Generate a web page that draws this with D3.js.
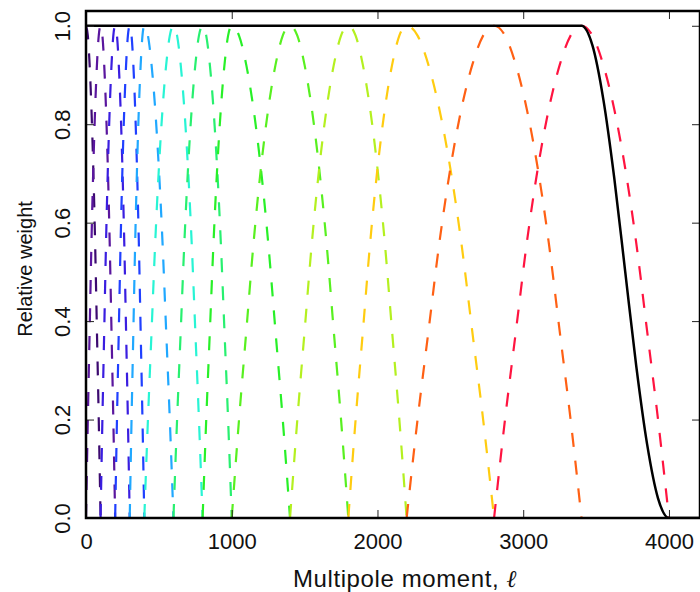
<!DOCTYPE html>
<html>
<head>
<meta charset="utf-8">
<script src="https://cdn.jsdelivr.net/npm/d3@7"></script>
<style>
    body { margin: 0; background: #fff; }
    text { font-family: "Liberation Sans", Arial, sans-serif; fill: #111; }
</style>
</head>
<body>
<svg id="chart"></svg>
<script>
// band centres (multipole) read from the peaks / zeros of the dashed windows
const nodes = [0, 100, 200, 300, 400, 600, 800, 1000, 1400, 1800, 2200, 2800, 3400, 4000];
const bandColors = ["#3c0a70", "#5a169e", "#3a1ee0", "#2040ff", "#20a8ff", "#28f4d4",
    "#28f070", "#28f028", "#58f020", "#b4f020", "#ffcc10", "#ff6014", "#ff1440"];
// shape of a window rising from one node to the next (fraction of the interval -> weight)
const riseProfile = [0, 0.2, 0.38, 0.56, 0.71, 0.83, 0.92, 0.98, 1];
// the solid curve: flat at 1, then falls off between beamStart and beamEnd
const beamFall = [1, 0.96, 0.85, 0.69, 0.5, 0.31, 0.15, 0.04, 0];
const beamStart = 3400, beamEnd = 4000;
const xTicks = [0, 1000, 2000, 3000, 4000];
const yTicks = [0, 0.2, 0.4, 0.6, 0.8, 1.0];

const width = 700, height = 592;
const margin = {top: 11, right: 0, bottom: 74, left: 86};

const svg = d3.select("#chart").attr("width", width).attr("height", height);

const x = d3.scaleLinear().domain([0, 4213]).range([margin.left, width - margin.right]);
const y = d3.scaleLinear().domain([0, 1.03]).range([height - margin.bottom, margin.top]);

function bandPoints(i) {
    const pts = [];
    const n = riseProfile.length;
    if (i > 0) {
        const a = nodes[i - 1], b = nodes[i];
        riseProfile.forEach((f, k) => pts.push([a + (b - a) * k / (n - 1), f]));
    } else {
        pts.push([nodes[0], 1]);
    }
    const a = nodes[i], b = nodes[i + 1];
    for (let k = 1; k < n; k++) pts.push([a + (b - a) * k / (n - 1), riseProfile[n - 1 - k]]);
    return pts;
}

const line = d3.line()
    .x(d => x(d[0]))
    .y(d => y(d[1]))
    .curve(d3.curveMonotoneX);

svg.append("clipPath").attr("id", "clip")
    .append("rect")
    .attr("x", margin.left).attr("y", margin.top)
    .attr("width", width - margin.left - margin.right)
    .attr("height", height - margin.top - margin.bottom);

const plot = svg.append("g").attr("clip-path", "url(#clip)");

bandColors.forEach((c, i) => {
    plot.append("path")
        .attr("d", line(bandPoints(i)))
        .attr("fill", "none")
        .attr("stroke", c)
        .attr("stroke-width", 2.2)
        .attr("stroke-dasharray", "14,14");
});

// solid curve
const beam = [[0, 1], [beamStart, 1]];
beamFall.forEach((f, k) => {
    if (k > 0) beam.push([beamStart + (beamEnd - beamStart) * k / (beamFall.length - 1), f]);
});
beam.push([4213, 0]);
plot.append("path")
    .attr("d", line(beam))
    .attr("fill", "none")
    .attr("stroke", "#000")
    .attr("stroke-width", 2.5);

// axes, ticks pointing inward on all four sides
const axBottom = svg.append("g")
    .attr("transform", `translate(0,${height - margin.bottom})`)
    .call(d3.axisBottom(x).tickValues(xTicks).tickSize(-8).tickPadding(15).tickFormat(d3.format("d")));
const axTop = svg.append("g")
    .attr("transform", `translate(0,${margin.top})`)
    .call(d3.axisTop(x).tickValues(xTicks).tickSize(-8).tickFormat(""));
const axLeft = svg.append("g")
    .attr("transform", `translate(${margin.left},0)`)
    .call(d3.axisLeft(y).tickValues(yTicks).tickSize(-8).tickFormat(d3.format(".1f")));
const axRight = svg.append("g")
    .attr("transform", `translate(${width - margin.right},0)`)
    .call(d3.axisRight(y).tickValues(yTicks).tickSize(-8).tickFormat(""));

[axBottom, axTop, axLeft, axRight].forEach(g => {
    g.select(".domain").remove();
    g.selectAll(".tick line").attr("stroke", "#222").attr("stroke-width", 1);
});
axBottom.selectAll(".tick text").attr("font-size", 22).attr("fill", "#111");
axLeft.selectAll(".tick text")
    .attr("font-size", 22)
    .attr("fill", "#111")
    .attr("transform", "rotate(-90)")
    .attr("x", 0).attr("y", -16).attr("dy", 0)
    .attr("text-anchor", "middle");

// frame
svg.append("rect")
    .attr("x", margin.left).attr("y", margin.top)
    .attr("width", width - margin.left - margin.right)
    .attr("height", height - margin.top - margin.bottom)
    .attr("fill", "none").attr("stroke", "#000").attr("stroke-width", 2.5);

// axis labels
const xLabel = svg.append("text")
    .attr("x", 405).attr("y", 587)
    .attr("text-anchor", "middle")
    .attr("font-size", 24)
    .attr("letter-spacing", 0.6)
    .text("Multipole moment, ");
xLabel.append("tspan")
    .attr("font-family", "DejaVu Serif")
    .attr("font-style", "italic")
    .text("ℓ");

svg.append("text")
    .attr("transform", `translate(32,269) rotate(-90)`)
    .attr("text-anchor", "middle")
    .attr("font-size", 20)
    .text("Relative weight");
</script>
</body>
</html>
